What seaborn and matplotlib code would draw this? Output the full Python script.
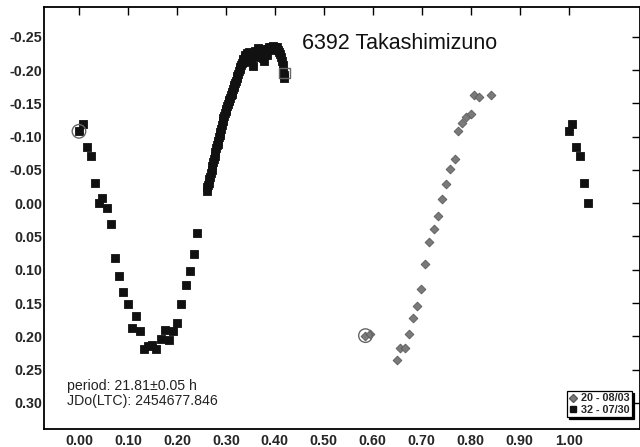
import matplotlib
matplotlib.use("Agg")
import matplotlib.pyplot as plt
import pandas as pd
import seaborn as sns
from matplotlib.lines import Line2D
from matplotlib.ticker import FormatStrFormatter

# Session 32 (2008 07/30): rotational phase and reduced magnitude
phase_0730 = [
    0.0000, 0.0075, 0.0157, 0.0240, 0.0320, 0.0400, 0.0480, 0.0580, 0.0650,
    0.0740, 0.0820, 0.0900, 0.1000, 0.1170, 0.1090, 0.1250, 0.1330, 0.1410,
    0.1500, 0.1580, 0.1670, 0.1750, 0.1830, 0.1920, 0.2000, 0.2080, 0.2180,
    0.2260, 0.2350, 0.2410,
    0.2605, 0.2620, 0.2635, 0.2650, 0.2665, 0.2680, 0.2695, 0.2710, 0.2725,
    0.2740, 0.2755, 0.2770, 0.2785, 0.2800, 0.2815, 0.2830, 0.2845, 0.2860,
    0.2875, 0.2890, 0.2905, 0.2920, 0.2935, 0.2950, 0.2965, 0.2980, 0.2995,
    0.3010, 0.3025, 0.3040, 0.3055, 0.3070, 0.3085, 0.3100, 0.3115, 0.3130,
    0.3145, 0.3160, 0.3175, 0.3190, 0.3205, 0.3220, 0.3235, 0.3250, 0.3265,
    0.3280, 0.3295, 0.3310, 0.3325, 0.3340, 0.3355, 0.3370, 0.3385, 0.3400,
    0.3420, 0.3440, 0.3460, 0.3480, 0.3500, 0.3520, 0.3540, 0.3560, 0.3580,
    0.3600, 0.3620, 0.3640, 0.3660, 0.3680, 0.3700, 0.3720, 0.3740, 0.3760,
    0.3780, 0.3800, 0.3820, 0.3840, 0.3860, 0.3880, 0.3900, 0.3920, 0.3940,
    0.3960, 0.3980, 0.4000, 0.4020, 0.4040, 0.4060, 0.4080, 0.4100, 0.4120,
    0.4140, 0.4160, 0.4170, 0.4180, 0.4185,
]
mag_0730 = [
    -0.108, -0.119, -0.084, -0.071, -0.030, -0.001, -0.008, 0.0075, 0.031,
    0.083, 0.109, 0.133, 0.152, 0.169, 0.188, 0.192, 0.219, 0.214,
    0.213, 0.219, 0.204, 0.190, 0.206, 0.192, 0.180, 0.151, 0.123,
    0.102, 0.077, 0.045,
    -0.018, -0.024, -0.027, -0.031, -0.036, -0.040, -0.046, -0.050, -0.056,
    -0.062, -0.066, -0.071, -0.077, -0.083, -0.087, -0.089, -0.094, -0.099,
    -0.103, -0.107, -0.112, -0.118, -0.124, -0.128, -0.131, -0.135, -0.139,
    -0.142, -0.146, -0.149, -0.153, -0.155, -0.158, -0.162, -0.164, -0.167,
    -0.171, -0.174, -0.177, -0.181, -0.184, -0.188, -0.191, -0.194, -0.198,
    -0.201, -0.205, -0.208, -0.211, -0.214, -0.217, -0.212, -0.220, -0.222,
    -0.218, -0.225, -0.221, -0.227, -0.224, -0.214, -0.226, -0.206, -0.223,
    -0.229, -0.219, -0.226, -0.233, -0.221, -0.230, -0.225, -0.231, -0.218,
    -0.213, -0.224, -0.229, -0.222, -0.231, -0.234, -0.230, -0.235, -0.233,
    -0.236, -0.232, -0.235, -0.231, -0.234, -0.230, -0.227, -0.224, -0.219,
    -0.214, -0.207, -0.199, -0.192, -0.188,
]

# Session 20 (2008 08/03)
phase_0803 = [
    0.5850, 0.5940, 0.6500, 0.6565, 0.6660, 0.6730, 0.6820, 0.6900, 0.6980,
    0.7076, 0.7150, 0.7250, 0.7330, 0.7420, 0.7500, 0.7580, 0.7670, 0.7750,
    0.7830, 0.7910, 0.8007, 0.8075, 0.8170, 0.8420,
]
mag_0803 = [
    0.199, 0.197, 0.236, 0.218, 0.218, 0.197, 0.172, 0.154, 0.129,
    0.091, 0.058, 0.039, 0.019, -0.007, -0.029, -0.052, -0.066, -0.108,
    -0.121, -0.129, -0.134, -0.163, -0.160, -0.163,
]

session_labels = ["20 - 08/03", "32 - 07/30"]
title_text = "6392 Takashimizuno"
note_lines = ["period: 21.81\u00b10.05 h", "JDo(LTC): 2454677.846"]
x_ticks = [0.00, 0.10, 0.20, 0.30, 0.40, 0.50, 0.60, 0.70, 0.80, 0.90, 1.00]
y_ticks = [-0.25, -0.20, -0.15, -0.10, -0.05, 0.00, 0.05, 0.10, 0.15, 0.20, 0.25, 0.30]

s32 = pd.DataFrame({"phase": phase_0730, "mag": mag_0730})
s20 = pd.DataFrame({"phase": phase_0803, "mag": mag_0803})
# points near phase 0 are repeated one cycle later
s32_wrap = s32[s32.phase < 0.045].assign(phase=lambda d: d.phase + 1.0)

sns.set_style("white")
plt.rcParams["font.family"] = ["Liberation Sans", "DejaVu Sans"]

fig = plt.figure(figsize=(6.4, 4.47), dpi=100)
ax = fig.add_axes([0.06875, 0.0403, 0.93075, 0.94404])

black = "#111111"
grey = "#7a7a7a"

sns.scatterplot(data=s32, x="phase", y="mag", marker="s", s=30,
                color=black, edgecolor=black, linewidth=0.6, ax=ax, zorder=3)
sns.scatterplot(data=s32_wrap, x="phase", y="mag", marker="s", s=30,
                color=black, edgecolor=black, linewidth=0.6, ax=ax, zorder=3)
sns.scatterplot(data=s20, x="phase", y="mag", marker="D", s=20,
                color=grey, edgecolor="#5a5a5a", linewidth=0.6, ax=ax, zorder=3)

# first point of each session circled, last point of session 32 boxed
firsts = pd.DataFrame({"phase": [phase_0730[0], phase_0803[0]],
                       "mag": [mag_0730[0], mag_0803[0]]})
sns.scatterplot(data=firsts, x="phase", y="mag", marker="o", s=95,
                facecolor="none", edgecolor="#666666", linewidth=1.0, ax=ax, zorder=4)
last = pd.DataFrame({"phase": [0.4200], "mag": [-0.1956]})
sns.scatterplot(data=last, x="phase", y="mag", marker="s", s=60,
                facecolor="none", edgecolor="#666666", linewidth=1.0, ax=ax, zorder=4)

ax.set_xlim(-0.0714, 1.145)
ax.set_ylim(0.3393, -0.2948)
ax.set_xticks(x_ticks)
ax.set_yticks(y_ticks)
ax.xaxis.set_major_formatter(FormatStrFormatter("%.2f"))
ax.yaxis.set_major_formatter(FormatStrFormatter("%.2f"))
ax.set_xlabel("")
ax.set_ylabel("")
ax.tick_params(axis="both", direction="in", length=6, width=1.0, color="black",
               top=True, right=True, labeltop=False, labelright=False,
               labelsize=10.3)
ax.tick_params(axis="x", pad=3.5)
ax.tick_params(axis="y", pad=1.5)
for lab in ax.get_xticklabels() + ax.get_yticklabels():
    lab.set_fontweight("bold")
for sp in ax.spines.values():
    sp.set_color("black")
    sp.set_linewidth(1.3)
    sp.set_visible(True)

ax.text(0.4545, -0.2312, title_text, fontsize=15.5, ha="left", va="baseline",
        color="#111111")
ax.text(-0.0245, 0.2803, note_lines[0], fontsize=10.2, ha="left", va="baseline",
        color="#222222")
ax.text(-0.0245, 0.3033, note_lines[1], fontsize=10.2, ha="left", va="baseline",
        color="#222222")

handles = [
    Line2D([], [], linestyle="none", marker="D", markersize=4.5,
           markerfacecolor=grey, markeredgecolor="#5a5a5a"),
    Line2D([], [], linestyle="none", marker="s", markersize=5,
           markerfacecolor=black, markeredgecolor=black),
]
leg = ax.legend(handles, session_labels, loc="lower right",
                bbox_to_anchor=(0.9866, 0.029), frameon=True, fancybox=False,
                shadow={"color": "black", "alpha": 1.0, "ox": 1.5, "oy": -1.5},
                edgecolor="black", framealpha=1.0,
                prop={"weight": "bold", "size": 7.8},
                handlelength=0.8, handletextpad=0.3, borderpad=0.2,
                labelspacing=0.1, borderaxespad=0.0)
leg.get_frame().set_linewidth(0.9)

fig.savefig("out.png", dpi=100)
